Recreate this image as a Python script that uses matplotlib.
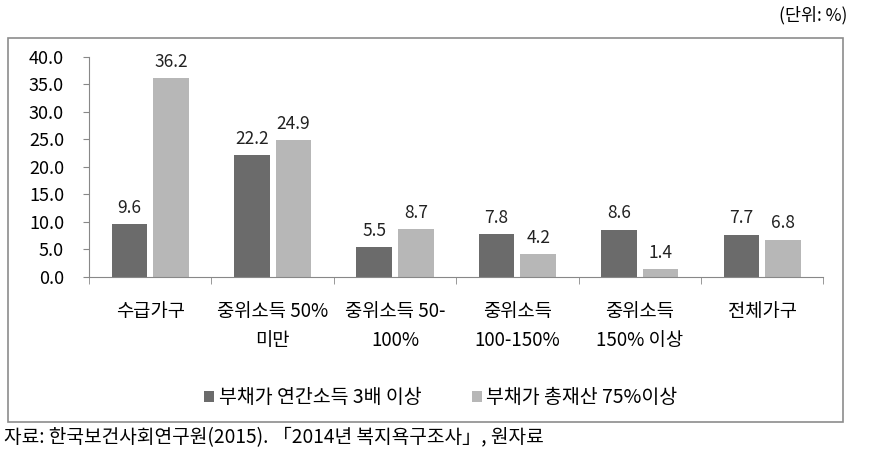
import numpy as np
import matplotlib.pyplot as plt
from matplotlib.patches import Rectangle

plt.rcParams['font.family'] = ['Noto Sans CJK KR', 'DejaVu Sans']

categories = ['수급가구', '중위소득 50%\n미만', '중위소득 50-\n100%', '중위소득\n100-150%', '중위소득\n150% 이상', '전체가구']
debt_income = [9.6, 22.2, 5.5, 7.8, 8.6, 7.7]
debt_assets = [36.2, 24.9, 8.7, 4.2, 1.4, 6.8]
series_names = ['부채가 연간소득 3배 이상', '부채가 총재산 75%이상']
y_ticks = [0, 5, 10, 15, 20, 25, 30, 35, 40]

dark = '#6b6b6b'
light = '#b7b7b7'


def main():
    fig = plt.figure(figsize=(8.73, 4.67), dpi=100)
    # outer frame
    fig.patches.append(Rectangle((0.009, 0.096), 0.957, 0.823, transform=fig.transFigure,
                                 fill=False, edgecolor='#8c8c8c', linewidth=1.2))
    ax = fig.add_axes([0.102, 0.407, 0.841, 0.471])
    x = np.arange(len(categories))
    w = 0.29
    b1 = ax.bar(x - 0.17, debt_income, w, color=dark, label=series_names[0])
    b2 = ax.bar(x + 0.17, debt_assets, w, color=light, label=series_names[1])
    for bars in (b1, b2):
        for r in bars:
            ax.text(r.get_x() + r.get_width() / 2, r.get_height() + 1.3, '%.1f' % r.get_height(),
                    ha='center', va='bottom', fontsize=12.5, color='#222222')

    ax.set_xlim(-0.5, len(categories) - 0.5)
    ax.set_ylim(0, 40)
    ax.set_yticks(y_ticks)
    ax.set_yticklabels(['%.1f' % v for v in y_ticks], fontsize=13)
    ax.set_xticks(x)
    ax.set_xticklabels(categories, fontsize=13.5, linespacing=1.55, va='top')
    ax.set_xticks(np.arange(len(categories) + 1) - 0.5, minor=True)
    ax.tick_params(axis='x', which='major', length=0, pad=17)
    ax.tick_params(axis='x', which='minor', length=5, direction='out', color='#888888')
    ax.tick_params(axis='y', length=4, color='#888888', pad=14)
    for s in ['top', 'right']:
        ax.spines[s].set_visible(False)
    ax.spines['left'].set_color('#888888')
    ax.spines['bottom'].set_color('#888888')

    fig.legend(handles=[b1, b2], loc='center', bbox_to_anchor=(0.505, 0.148), ncol=2,
               frameon=False, fontsize=14, handlelength=0.5, handleheight=0.5,
               handletextpad=0.25, columnspacing=2.6)

    fig.text(0.971, 0.968, '(단위: %)', ha='right', va='center', fontsize=12.5)
    fig.text(0.005, 0.062, '자료: 한국보건사회연구원(2015). 「2014년 복지욕구조사」, 원자료',
             ha='left', va='center', fontsize=13.8)

    plt.savefig('out.png', dpi=100)


if __name__ == "__main__":
    main()
